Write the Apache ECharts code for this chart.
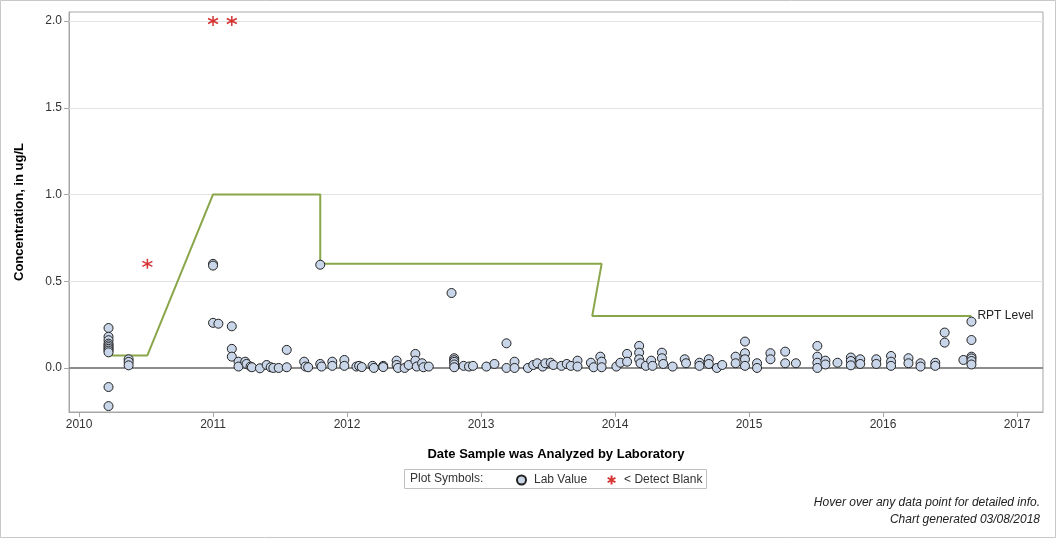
<!DOCTYPE html>
<html>
<head>
<meta charset="utf-8">
<script src="https://cdn.jsdelivr.net/npm/echarts@6/dist/echarts.min.js"></script>
<style>
html,body{margin:0;padding:0;background:#fff;}
#chart{width:1056px;height:538px;}
</style>
</head>
<body>
<div id="chart"></div>
<script>
// ---- data (decimal years, concentration in ug/L) ----
const yearTicks = [2010, 2011, 2012, 2013, 2014, 2015, 2016, 2017];
const valueTicks = [0, 0.5, 1.0, 1.5, 2.0];

const labDates = [
  2010.22,2010.22,2010.22,2010.22,2010.22,2010.22,2010.22,2010.22,2010.22,2010.22,2010.22,
  2010.37,2010.37,2010.37,
  2011.00,2011.00,2011.00,2011.04,
  2011.14,2011.14,2011.14,
  2011.19,2011.19,2011.24,2011.25,2011.28,2011.29,2011.35,2011.40,2011.43,2011.45,2011.49,
  2011.55,2011.55,2011.68,2011.69,2011.71,
  2011.80,2011.80,2011.81,
  2011.89,2011.89,2011.98,2011.98,
  2012.07,2012.09,2012.11,2012.19,2012.20,2012.27,2012.27,
  2012.37,2012.37,2012.38,2012.43,2012.46,2012.51,2012.51,2012.52,2012.56,2012.57,2012.61,
  2012.78,2012.80,2012.80,2012.80,2012.80,2012.80,
  2012.87,2012.91,2012.94,2013.04,2013.10,2013.19,2013.19,2013.25,2013.25,
  2013.35,2013.39,2013.42,2013.46,2013.48,2013.52,2013.54,2013.60,2013.64,2013.67,2013.72,2013.72,
  2013.82,2013.84,2013.89,2013.90,2013.90,
  2014.01,2014.04,2014.09,2014.09,2014.18,2014.18,2014.18,2014.19,2014.23,2014.27,2014.28,
  2014.35,2014.35,2014.36,2014.43,2014.52,2014.53,2014.63,2014.63,2014.70,2014.70,2014.76,2014.80,
  2014.90,2014.90,2014.97,2014.97,2014.97,2014.97,
  2015.06,2015.06,2015.16,2015.16,2015.27,2015.27,2015.35,
  2015.51,2015.51,2015.51,2015.51,2015.57,2015.57,2015.66,
  2015.76,2015.76,2015.76,2015.83,2015.83,2015.95,2015.95,
  2016.06,2016.06,2016.06,2016.19,2016.19,2016.28,2016.28,2016.39,2016.39,
  2016.46,2016.46,2016.60,
  2016.66,2016.66,2016.66,2016.66,2016.66,2016.66
];
const labValues = [
  0.23,0.18,0.16,0.14,0.13,0.12,0.11,0.10,0.09,-0.11,-0.22,
  0.05,0.035,0.015,
  0.60,0.59,0.26,0.255,
  0.24,0.11,0.065,
  0.036,0.008,0.036,0.023,0.008,0.004,-0.002,0.017,0.004,0.0,0.0,
  0.104,0.004,0.036,0.008,0.004,
  0.595,0.023,0.008,
  0.036,0.012,0.046,0.012,
  0.008,0.012,0.005,0.012,0.0,0.012,0.005,
  0.042,0.017,0.0,0.0,0.017,0.081,0.042,0.008,0.027,0.004,0.008,
  0.432,0.056,0.045,0.035,0.02,0.004,
  0.012,0.008,0.012,0.008,0.023,0.142,0.0,0.036,0.0,
  0.0,0.017,0.027,0.008,0.027,0.03,0.017,0.012,0.023,0.012,0.042,0.008,
  0.03,0.004,0.065,0.036,0.004,
  0.008,0.03,0.081,0.036,0.127,0.088,0.05,0.027,0.012,0.042,0.012,
  0.088,0.056,0.023,0.008,0.05,0.027,0.03,0.012,0.05,0.023,0.0,0.017,
  0.065,0.027,0.152,0.085,0.05,0.012,
  0.027,0.0,0.085,0.05,0.094,0.027,0.027,
  0.127,0.065,0.03,0.0,0.042,0.02,0.03,
  0.06,0.04,0.015,0.05,0.023,0.05,0.023,
  0.069,0.036,0.012,0.056,0.027,0.027,0.008,0.03,0.012,
  0.204,0.146,0.046,
  0.267,0.161,0.065,0.055,0.04,0.02
];

const blankDates = [2010.51, 2011.00, 2011.14];
const blankValues = [0.60, 2.00, 2.00];

const rptDates = [2010.22, 2010.51, 2011.00, 2011.80, 2011.80, 2013.90, 2013.83, 2016.66];
const rptValues = [0.072, 0.072, 1.0, 1.0, 0.6, 0.6, 0.3, 0.3];

// ---- chart ----
const FONT = "'Liberation Sans', Arial, sans-serif";
const pair = (xs, ys) => xs.map((x, i) => [x, ys[i]]);
const asterisk = 'path://M5,0L5,10M0.67,2.5L9.33,7.5M0.67,7.5L9.33,2.5';

const chart = echarts.init(document.getElementById('chart'), null, {renderer: 'canvas'});
chart.setOption({
  animation: false,
  textStyle: {fontFamily: FONT},
  grid: {left: 69, right: 13, top: 12, bottom: 126, show: true, borderColor: '#a6a6a6', borderWidth: 1, backgroundColor: '#fff'},
  xAxis: {
    type: 'value', min: 2009.925, max: 2017.194,
    name: 'Date Sample was Analyzed by Laboratory', nameLocation: 'middle', nameGap: 36,
    nameTextStyle: {fontFamily: FONT, fontSize: 13, fontWeight: 'bold', color: '#000'},
    axisLine: {show: true, onZero: false, lineStyle: {color: '#a6a6a6'}},
    axisTick: {show: true, inside: false, length: 5, lineStyle: {color: '#a6a6a6'}, customValues: yearTicks},
    axisLabel: {fontFamily: FONT, fontSize: 12, color: '#333', margin: 7, customValues: yearTicks, formatter: v => String(Math.round(v))},
    splitLine: {show: false}
  },
  yAxis: {
    type: 'value', min: -0.254, max: 2.052,
    name: 'Concentration, in ug/L', nameLocation: 'middle', nameGap: 43,
    nameTextStyle: {fontFamily: FONT, fontSize: 13, fontWeight: 'bold', color: '#000'},
    axisLine: {show: true, onZero: false, lineStyle: {color: '#a6a6a6'}},
    axisTick: {show: true, inside: false, length: 5, lineStyle: {color: '#a6a6a6'}, customValues: valueTicks},
    axisLabel: {fontFamily: FONT, fontSize: 12, color: '#333', margin: 7, customValues: valueTicks, formatter: v => v.toFixed(1)},
    splitLine: {show: false}
  },
  legend: {
    left: 516, top: 473, padding: 0, itemWidth: 9, itemHeight: 9, itemGap: 18, selectedMode: false,
    data: ['Lab Value', '< Detect Blank'],
    textStyle: {fontFamily: FONT, fontSize: 12, color: '#333', padding: [0, 0, 0, 3]}
  },
  graphic: [
    {type: 'rect', shape: {x: 0.5, y: 0.5, width: 1055, height: 537}, style: {fill: 'none', stroke: '#c8c8c8', lineWidth: 1}, silent: true},
    {type: 'rect', shape: {x: 404.5, y: 469.5, width: 302, height: 19}, style: {fill: 'none', stroke: '#c0c0c0', lineWidth: 1}, silent: true},
    {type: 'text', x: 410, y: 479, style: {text: 'Plot Symbols:', fill: '#333', font: '12px ' + FONT, verticalAlign: 'middle'}, silent: true},
    {type: 'text', right: 16, top: 497, style: {text: 'Hover over any data point for detailed info.', fill: '#222', font: 'italic 12px ' + FONT, align: 'right'}, silent: true},
    {type: 'text', right: 16, top: 514, style: {text: 'Chart generated 03/08/2018', fill: '#222', font: 'italic 12px ' + FONT, align: 'right'}, silent: true}
  ],
  series: [
    {
      name: 'grid', type: 'line', data: [], z: 1, silent: true,
      markLine: {
        silent: true, symbol: 'none', label: {show: false}, z: 1,
        lineStyle: {color: '#e3e3e3', width: 1, type: 'solid'},
        data: [{yAxis: 0.5}, {yAxis: 1.0}, {yAxis: 1.5}, {yAxis: 2.0},
               {yAxis: 0, lineStyle: {color: '#8c8c8c', width: 2}}]
      }
    },
    {
      name: 'RPT Level', type: 'line', data: pair(rptDates, rptValues), z: 3,
      showSymbol: false, symbol: 'none',
      lineStyle: {color: '#8aa64a', width: 2},
      endLabel: {show: true, formatter: 'RPT Level', color: '#222', fontFamily: FONT, fontSize: 12, distance: 6}
    },
    {
      name: 'Lab Value', type: 'scatter', data: pair(labDates, labValues), z: 4,
      symbol: 'circle', symbolSize: 9,
      itemStyle: {color: '#c9d5e8', borderColor: '#222', borderWidth: 1, opacity: 1}
    },
    {
      name: '< Detect Blank', type: 'scatter', data: pair(blankDates, blankValues), z: 5,
      symbol: asterisk, symbolSize: 10,
      itemStyle: {color: 'none', borderColor: '#cc0000', borderWidth: 1.5}
    }
  ]
});
</script>
</body>
</html>
